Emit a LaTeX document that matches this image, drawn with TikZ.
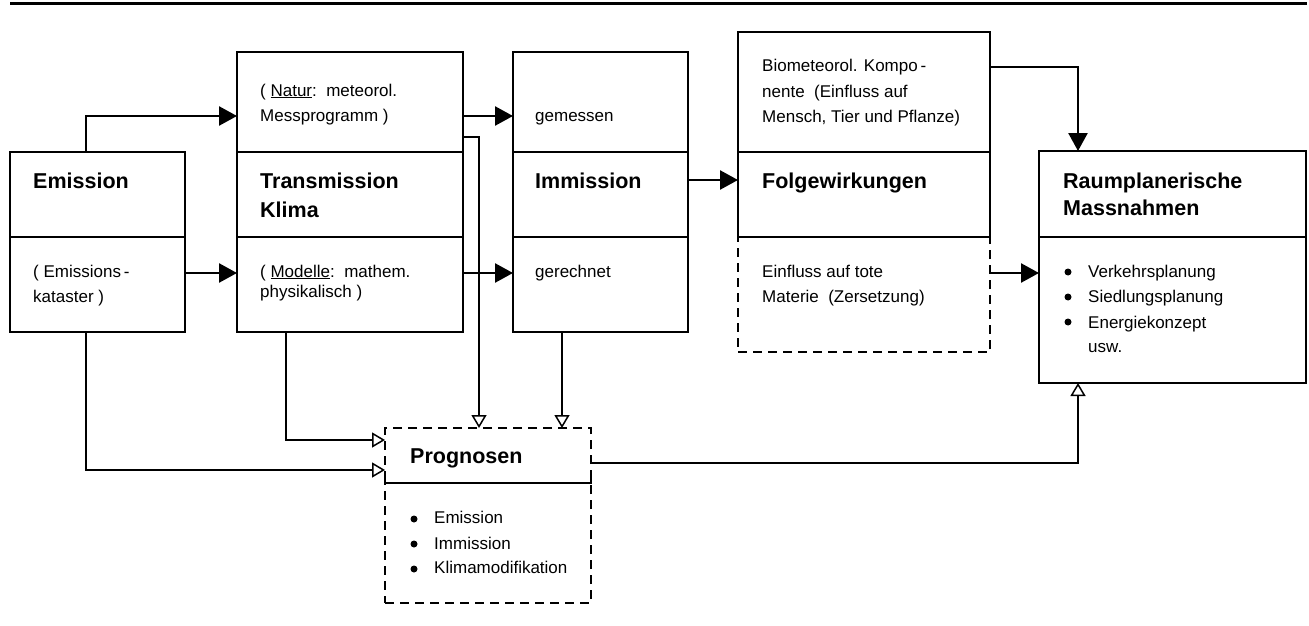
\documentclass[tikz,border=0pt]{standalone}
\usepackage{fontspec}
\setmainfont{Liberation Sans}
\usetikzlibrary{arrows.meta}
\tikzset{
  box/.style={draw, line width=2pt, rectangle, inner sep=0pt, outer sep=0pt},
  dbox/.style={box, dashed, dash pattern=on 9pt off 6pt},
  ttl/.style={anchor=base west, inner sep=0pt, font=\fontsize{21.5}{26}\selectfont\bfseries},
  txt/.style={anchor=base west, inner sep=0pt, font=\fontsize{17}{20}\selectfont},
  dot/.style={circle, fill, inner sep=0pt, minimum size=7pt},
  big/.style={line width=2.5pt, -{Triangle[length=18pt,width=19pt]}},
  thin/.style={line width=1.5pt, -{Triangle[open,length=13pt,width=15pt,line width=1.5pt]}}
}
\begin{document}
\begin{tikzpicture}[x=1pt,y=-1pt]
\useasboundingbox (0,0) rectangle (1309,626);
\draw[line width=3pt] (10,4) coordinate (r1) -- (1307,4) coordinate (r2);

% Emission
\node[box, minimum width=175pt, minimum height=85pt] (emA) at (97.5,194.5) {};
\node[box, minimum width=175pt, minimum height=95pt] (emB) at (97.5,284.5) {};
% Transmission
\node[box, minimum width=226pt, minimum height=100pt] (trA) at (350,102) {};
\node[box, minimum width=226pt, minimum height=85pt] (trM) at (350,194.5) {};
\node[box, minimum width=226pt, minimum height=95pt] (trB) at (350,284.5) {};
% Immission
\node[box, minimum width=175pt, minimum height=100pt] (imA) at (600.5,102) {};
\node[box, minimum width=175pt, minimum height=85pt] (imM) at (600.5,194.5) {};
\node[box, minimum width=175pt, minimum height=95pt] (imB) at (600.5,284.5) {};
% Folgewirkungen
\node[box, minimum width=252pt, minimum height=120pt] (foA) at (864,92) {};
\node[dbox, minimum width=252pt, minimum height=115pt] (foB) at (864,294.5) {};
\node[box, minimum width=252pt, minimum height=85pt] (foM) at (864,194.5) {};
% Raumplanerische
\node[box, minimum width=267pt, minimum height=86pt] (raA) at (1172.5,194) {};
\node[box, minimum width=267pt, minimum height=146pt] (raB) at (1172.5,310) {};
% Prognosen
\node[dbox, minimum width=206pt, minimum height=55pt] (prA) at (488,455.5) {};
\node[dbox, minimum width=206pt, minimum height=120pt] (prB) at (488,543) {};
\draw[line width=2pt] ([yshift=4pt]prA.south west) -- (prA.south west) -- (prA.south east) -- ([yshift=4pt]prA.south east);

% texts
\node[ttl] (t1) at (33,188) {Emission};
\node[txt] (t2) at (33,277) {( Emissions\,-};
\node[txt] (t3) at (33,302) {kataster )};

\node[txt] (t4) at (260,96) {( \underline{Natur}:\ \ meteorol.};
\node[txt] (t5) at (260,121) {Messprogramm )};
\node[ttl] (t6) at (260,188) {Transmission};
\node[ttl] (t7) at (260,217) {Klima};
\node[txt] (t8) at (260,277) {( \underline{Modelle}:\ \ mathem.};
\node[txt] (t9) at (260,297) {physikalisch )};

\node[txt] (t10) at (535,121) {gemessen};
\node[ttl] (t11) at (535,188) {Immission};
\node[txt] (t12) at (535,277) {gerechnet};

\node[txt] (t13) at (762,72) {Biometeorol. Kompo\,-};
\node[txt] (t14) at (762,97) {nente\ \ (Einfluss auf};
\node[txt] (t15) at (762,122) {Mensch, Tier und Pflanze)};
\node[ttl] (t16) at (762,188) {Folgewirkungen};
\node[txt] (t17) at (762,277) {Einfluss\ auf\ tote};
\node[txt] (t18) at (762,302) {Materie\ \ (Zersetzung)};

\node[ttl] (t19) at (1063,188) {Raumplanerische};
\node[ttl] (t20) at (1063,215) {Massnahmen};
\node[dot] (d1) at (1068,272) {};
\node[dot] (d2) at (1068,297) {};
\node[dot] (d3) at (1068,322) {};
\node[txt] (t21) at (1088,277) {Verkehrsplanung};
\node[txt] (t22) at (1088,302) {Siedlungsplanung};
\node[txt] (t23) at (1088,328) {Energiekonzept};
\node[txt] (t24) at (1088,352) {usw.};

\node[ttl] (t25) at (410,463) {Prognosen};
\node[dot] (d4) at (414,519) {};
\node[dot] (d5) at (414,544) {};
\node[dot] (d6) at (414,569) {};
\node[txt] (t26) at (434,523) {Emission};
\node[txt] (t27) at (434,549) {Immission};
\node[txt] (t28) at (434,573) {Klimamodifikation};

% big arrows
\draw[big] ([xshift=-11.5pt]emA.north) |- ([yshift=-14pt]trA.west);
\draw[big] ([yshift=11.5pt]emB.east) -- ([yshift=11.5pt]trB.west);
\draw[big] ([yshift=-14pt]trA.east) -- ([yshift=-14pt]imA.west);
\draw[big] ([yshift=11.5pt]trB.east) -- ([yshift=11.5pt]imB.west);
\draw[big] ([yshift=14.5pt]imM.east) -- ([yshift=14.5pt]foM.west);
\draw[big] ([yshift=25pt]foA.east) -| ([xshift=-94.5pt]raA.north);
\draw[big] ([yshift=21.5pt]foB.east) -- ([yshift=21.5pt]foB.east -| raB.west);

% thin arrows
\draw[thin] ([yshift=-35pt]trA.east) -| ([xshift=-9pt]prA.north);
\draw[thin] ([xshift=-38.5pt]imB.south) -- ([xshift=-38.5pt]imB.south |- prA.north);
\draw[thin] ([xshift=-64pt]trB.south) |- ([yshift=15.5pt]prA.west);
\draw[thin] ([xshift=-11.5pt]emB.south) |- ([yshift=-14.5pt]prA.west);
\draw[thin] ([yshift=-7.5pt]prA.east) -| ([xshift=-94.5pt]raB.south);
\end{tikzpicture}
\end{document}
